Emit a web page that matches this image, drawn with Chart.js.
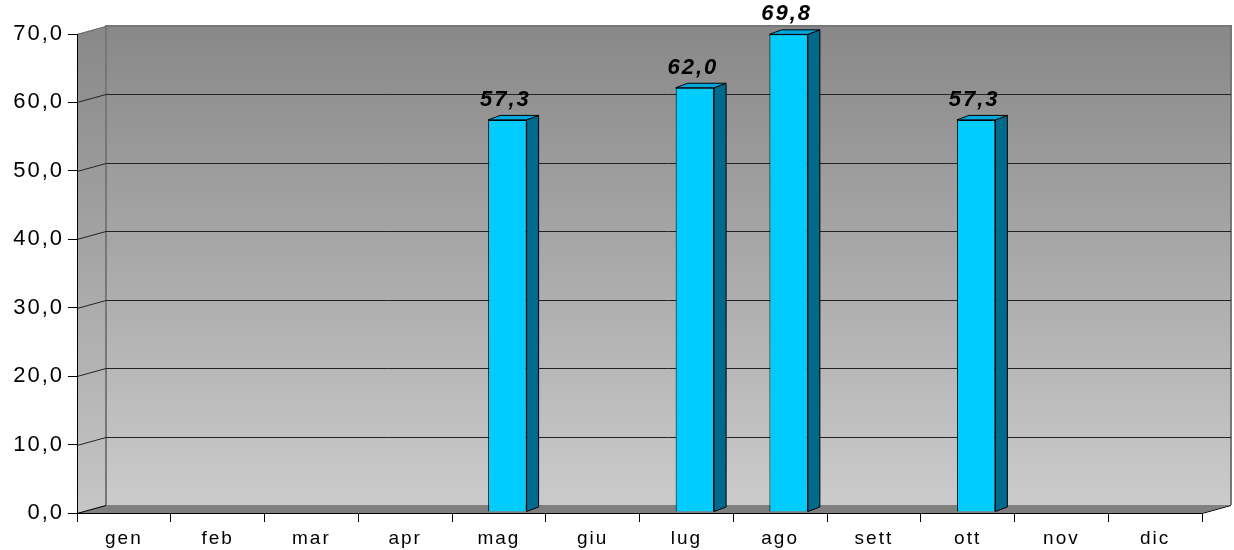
<!DOCTYPE html>
<html>
<head>
<meta charset="utf-8">
<script src="https://cdn.jsdelivr.net/npm/chart.js@4/dist/chart.umd.min.js"></script>
<style>
  html, body { margin: 0; padding: 0; background: #ffffff; }
  #wrap { width: 1234px; height: 550px; position: relative; }
</style>
</head>
<body>
<div id="wrap"><canvas id="c" width="1234" height="550"></canvas></div>
<script>
const categories = ['gen','feb','mar','apr','mag','giu','lug','ago','sett','ott','nov','dic'];
const values = [null, null, null, null, 57.3, null, 62.0, 69.8, null, 57.3, null, null];
const yMin = 0, yMax = 70, yStep = 10;

const fmt = v => Number(v).toFixed(1).replace('.', ',');

// 3D depth of the walls and the bars
const WALL_DX = 29, WALL_DY = -8;
const BAR_SHIFT_X = 8.5, BAR_SHIFT_Y = -1;
const BAR_DX = 12, BAR_DY = -4.5;

const wallsPlugin = {
  id: 'walls',
  beforeDraw(chart) {
    const ctx = chart.ctx;
    const xs = chart.scales.x, ys = chart.scales.y;
    const L = xs.left, R = xs.right;
    const T = ys.getPixelForValue(yMax), B = ys.getPixelForValue(yMin);
    ctx.save();
    // back wall
    let g = ctx.createLinearGradient(0, T + WALL_DY, 0, B + WALL_DY);
    g.addColorStop(0, '#888888'); g.addColorStop(1, '#cbcbcb');
    ctx.fillStyle = g;
    ctx.fillRect(L + WALL_DX, T + WALL_DY, R - L, B - T);
    // left wall
    g = ctx.createLinearGradient(0, T, 0, B);
    g.addColorStop(0, '#898989'); g.addColorStop(1, '#c6c6c6');
    ctx.fillStyle = g;
    ctx.beginPath();
    ctx.moveTo(L, T); ctx.lineTo(L + WALL_DX, T + WALL_DY);
    ctx.lineTo(L + WALL_DX, B + WALL_DY); ctx.lineTo(L, B); ctx.closePath();
    ctx.fill();
    // floor
    ctx.fillStyle = '#808080';
    ctx.beginPath();
    ctx.moveTo(L, B); ctx.lineTo(R, B);
    ctx.lineTo(R + WALL_DX, B + WALL_DY); ctx.lineTo(L + WALL_DX, B + WALL_DY);
    ctx.closePath(); ctx.fill();
    // wall edges
    ctx.strokeStyle = '#777777'; ctx.lineWidth = 2;
    ctx.beginPath();
    ctx.moveTo(L + WALL_DX, B + WALL_DY); ctx.lineTo(L + WALL_DX, T + WALL_DY);
    ctx.lineTo(R + WALL_DX, T + WALL_DY); ctx.lineTo(R + WALL_DX, B + WALL_DY);
    ctx.stroke();
    // gridlines
    ctx.lineWidth = 1;
    for (let v = yMin; v <= yMax; v += yStep) {
      const y = Math.round(ys.getPixelForValue(v)) + 0.5;
      ctx.strokeStyle = v === yMax ? '#6a6a6a' : '#000000';
      ctx.beginPath();
      ctx.moveTo(L, y); ctx.lineTo(L + WALL_DX, y + WALL_DY);
      if (v !== yMin && v !== yMax) {
        ctx.strokeStyle = '#222222';
        ctx.lineTo(R + WALL_DX, y + WALL_DY);
      }
      ctx.stroke();
    }
    // right floor edge
    ctx.strokeStyle = '#000000';
    ctx.beginPath();
    ctx.moveTo(R, Math.round(B) + 0.5); ctx.lineTo(R + WALL_DX, Math.round(B) + 0.5 + WALL_DY);
    ctx.stroke();
    ctx.restore();
    ctx.letterSpacing = '2px';
  },
  beforeDatasetsDraw(chart) {
    chart.ctx.save();
    chart.ctx.translate(BAR_SHIFT_X, BAR_SHIFT_Y);
  },
  afterDatasetsDraw(chart) {
    const ctx = chart.ctx;
    const meta = chart.getDatasetMeta(0);
    meta.data.forEach((el, i) => {
      if (values[i] === null || values[i] === undefined) return;
      const p = el.getProps(['x', 'y', 'base', 'width'], true);
      const l = p.x - p.width / 2, r = p.x + p.width / 2;
      ctx.lineWidth = 1;
      ctx.strokeStyle = '#000000';
      // side face
      ctx.fillStyle = '#006a8c';
      ctx.beginPath();
      ctx.moveTo(r, p.y); ctx.lineTo(r + BAR_DX, p.y + BAR_DY);
      ctx.lineTo(r + BAR_DX, p.base + BAR_DY); ctx.lineTo(r, p.base);
      ctx.closePath(); ctx.fill(); ctx.stroke();
      // top face
      ctx.fillStyle = '#00a8dc';
      ctx.beginPath();
      ctx.moveTo(l, p.y); ctx.lineTo(l + BAR_DX, p.y + BAR_DY);
      ctx.lineTo(r + BAR_DX, p.y + BAR_DY); ctx.lineTo(r, p.y);
      ctx.closePath(); ctx.fill(); ctx.stroke();
      // data label
      ctx.save();
      ctx.letterSpacing = '2px';
      ctx.font = 'italic bold 22px "Liberation Sans", Arial, sans-serif';
      ctx.fillStyle = '#000000';
      ctx.textAlign = 'center';
      ctx.textBaseline = 'alphabetic';
      ctx.fillText(fmt(values[i]), p.x - 2, p.y - 14);
      ctx.restore();
    });
    ctx.restore();
  }
};

new Chart(document.getElementById('c'), {
  type: 'bar',
  data: {
    labels: categories,
    datasets: [{
      data: values,
      backgroundColor: '#00ccff',
      borderColor: '#000000',
      borderWidth: 1,
      barPercentage: 0.41,
      categoryPercentage: 1.0,
      clip: false
    }]
  },
  options: {
    responsive: false,
    animation: false,
    devicePixelRatio: 1,
    layout: { padding: { left: 0, right: 32, top: 34, bottom: 0 } },
    plugins: { legend: { display: false }, tooltip: { enabled: false } },
    scales: {
      x: {
        offset: true,
        grid: { display: true, offset: true, drawOnChartArea: false, drawTicks: true, tickLength: 9, color: '#000000', lineWidth: 1 },
        border: { display: true, color: '#000000', width: 1 },
        ticks: { color: '#000000', font: { family: '"Liberation Sans", Arial, sans-serif', size: 19 }, padding: 5, maxRotation: 0, autoSkip: false },
        afterFit(s) { s.height = 37; }
      },
      y: {
        min: yMin, max: yMax,
        grid: { display: true, drawOnChartArea: false, drawTicks: true, tickLength: 9, color: '#000000', lineWidth: 1 },
        border: { display: true, color: '#000000', width: 1 },
        ticks: { stepSize: yStep, color: '#000000', font: { family: '"Liberation Sans", Arial, sans-serif', size: 22 }, padding: 4, callback: v => fmt(v) },
        afterFit(s) { s.width = 77; }
      }
    }
  },
  plugins: [wallsPlugin]
});
</script>
</body>
</html>
